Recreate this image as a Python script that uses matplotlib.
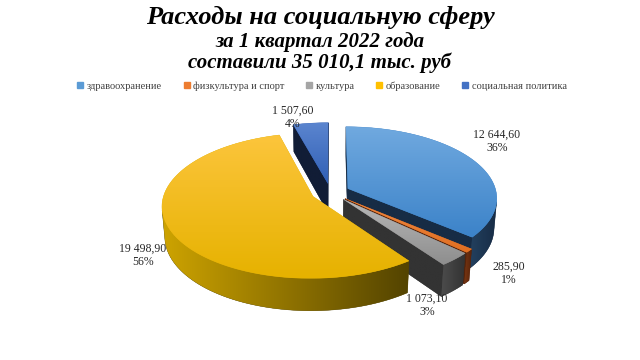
import numpy as np
import matplotlib.pyplot as plt
from matplotlib.patches import Polygon
from matplotlib.lines import Line2D
from matplotlib.colors import to_rgb

# Data
categories = ['здравоохранение', 'физкультура и спорт', 'культура',
              'образование', 'социальная политика']
values = [12644.60, 285.90, 1073.10, 19498.90, 1507.60]
value_labels = ['12 644,60', '285,90', '1 073,10', '19 498,90', '1 507,60']
pct_labels = ['36%', '1%', '3%', '56%', '4%']

legend_colors = ['#5b9bd5', '#ed7d31', '#a5a5a5', '#ffc000', '#4472c4']
top_light = ['#70a9df', '#f08a44', '#b8b8b8', '#fcc53c', '#5b85cf']
top_dark = ['#3c83c9', '#e06f22', '#8e8e8e', '#e6b200', '#3160b6']
wall_light = ['#23405f', '#7a3612', '#4c4c4c', '#cda300', '#27406a']
wall_dark = ['#172c45', '#55230a', '#333333', '#544400', '#111d36']

# 3D view settings (pixel-space)
el = np.radians(30)
D = 7.0
S = 146.0
cx, cy = 330.5, 222.0
h = 0.23
expl = 0.13


def proj(x, y, z):
    dep = D + y * np.cos(el) - z * np.sin(el)
    sx = cx + S * x * D / dep
    sy = cy - S * (y * np.sin(el) + z * np.cos(el)) * D / dep
    return np.column_stack([np.atleast_1d(sx), np.atleast_1d(sy)])


def depth(x, y, z):
    return np.mean(D + np.asarray(y) * np.cos(el) - np.asarray(z) * np.sin(el))


cam = np.array([0.0, -D * np.cos(el), D * np.sin(el)])


def facing(n, p):
    return np.dot(n, cam - p) > 0


def grad_fill(ax, verts, c1, c2, horizontal, z):
    poly = Polygon(verts, closed=True, facecolor=c2, edgecolor=c2,
                   linewidth=0.3, zorder=z)
    ax.add_patch(poly)
    x0, x1 = verts[:, 0].min(), verts[:, 0].max()
    y0, y1 = verts[:, 1].min(), verts[:, 1].max()
    g = np.linspace(0, 1, 64)
    a, b = np.array(to_rgb(c1)), np.array(to_rgb(c2))
    cols = a[None, :] * (1 - g[:, None]) + b[None, :] * g[:, None]
    img = cols[None, :, :] if horizontal else cols[:, None, :]
    im = ax.imshow(img, extent=(x0, x1, y1, y0), origin='upper',
                   aspect='auto', zorder=z + 0.01, interpolation='bilinear')
    im.set_clip_path(poly)


fig = plt.figure(figsize=(6.4, 3.6), dpi=100)
ax = fig.add_axes([0, 0, 1, 1])
ax.axis('off')

fracs = np.array(values) / np.sum(values)
cum = np.concatenate([[0], np.cumsum(fracs)])

walls = []
tops = []
for i in range(len(values)):
    a0 = np.radians(90 - 360 * cum[i])
    a1 = np.radians(90 - 360 * cum[i + 1])
    mid = (a0 + a1) / 2
    ox, oy = expl * np.cos(mid), expl * np.sin(mid)
    t = np.linspace(a0, a1, max(4, int(abs(a1 - a0) / 0.01)))
    rx, ry = ox + np.cos(t), oy + np.sin(t)

    # top face
    top = np.vstack([proj(ox, oy, h), proj(rx, ry, np.full_like(t, h))])
    tops.append((i, top))

    # outer wall (only the part facing the camera)
    vis = np.array([facing(np.array([np.cos(tt), np.sin(tt), 0]),
                           np.array([ox + np.cos(tt), oy + np.sin(tt), h / 2]))
                    for tt in t])
    if vis.sum() > 1:
        idx = np.where(vis)[0]
        tv = t[idx[0]:idx[-1] + 1]
        vx, vy = ox + np.cos(tv), oy + np.sin(tv)
        verts = np.vstack([proj(vx, vy, np.full_like(tv, h)),
                           proj(vx[::-1], vy[::-1], np.zeros_like(tv))])
        walls.append((depth(vx, vy, h / 2), i, verts, True))

    # radial walls
    for ang, n in [(a0, np.array([-np.sin(a0), np.cos(a0), 0])),
                   (a1, np.array([np.sin(a1), -np.cos(a1), 0]))]:
        ex, ey = ox + np.cos(ang), oy + np.sin(ang)
        pm = np.array([(ox + ex) / 2, (oy + ey) / 2, h / 2])
        if facing(n, pm):
            verts = np.vstack([proj(ox, oy, h), proj(ex, ey, h),
                               proj(ex, ey, 0), proj(ox, oy, 0)])
            walls.append((depth([ox, ex], [oy, ey], h / 2), i, verts, False))

z = 2
for dep, i, verts, outer in sorted(walls, key=lambda w: -w[0]):
    if outer:
        grad_fill(ax, verts, wall_light[i], wall_dark[i], True, z)
    else:
        grad_fill(ax, verts, wall_dark[i], wall_dark[i], True, z)
    z += 1
for i, verts in tops:
    grad_fill(ax, verts, top_light[i], top_dark[i], False, z)
    z += 1

# data labels
label_xy = [(497, 141), (509, 273), (427, 305), (143, 255), (293, 117)]
for (lx, ly), v, p in zip(label_xy, value_labels, pct_labels):
    ax.text(lx, ly, v + '\n' + p, ha='center', va='center', fontsize=8.5,
            family='Liberation Serif', color='#262626', linespacing=1.15,
            zorder=50)

ax.set_xlim(0, 640)
ax.set_ylim(360, 0)

# titles
fig.text(0.5, 1 - 17 / 360, 'Расходы на социальную сферу', ha='center',
         va='center', fontsize=19, family='Liberation Serif',
         fontweight='bold', style='italic')
fig.text(0.5, 1 - 42 / 360, 'за 1 квартал 2022 года', ha='center',
         va='center', fontsize=15, family='Liberation Serif',
         fontweight='bold', style='italic')
fig.text(0.5, 1 - 63 / 360, 'составили 35 010,1 тыс. руб', ha='center',
         va='center', fontsize=15, family='Liberation Serif',
         fontweight='bold', style='italic')

handles = [Line2D([], [], marker='s', linestyle='none', markersize=4.5,
                  markerfacecolor=c, markeredgecolor=c) for c in legend_colors]
fig.legend(handles, categories, loc='center', bbox_to_anchor=(0.503, 1 - 86 / 360),
           ncol=5, frameon=False, handlelength=0.6, handletextpad=0.3,
           columnspacing=2.1, prop={'family': 'Liberation Serif', 'size': 7.5},
           labelcolor='#404040')

fig.savefig('out.png', dpi=100)
